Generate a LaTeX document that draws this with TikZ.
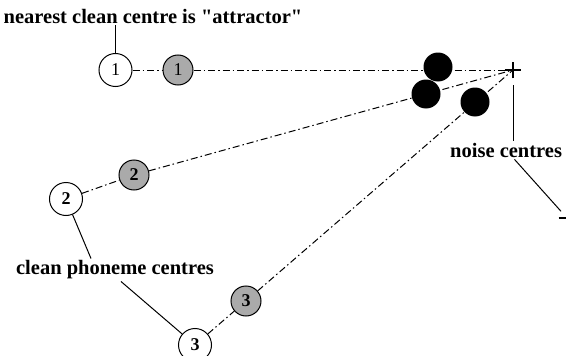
\documentclass[tikz,border=0pt]{standalone}
\usepackage{fontspec}
\setmainfont{Liberation Serif}[Ligatures=TeXOff]
\usetikzlibrary{calc, shapes.misc}
\definecolor{shade}{RGB}{170,170,170}

\begin{document}
\begin{tikzpicture}[
    x=1pt, y=-1pt,
    clean/.style={
        draw,
        circle,
        line width=1pt,
        fill=white,
        minimum size=33pt,
        inner sep=0pt,
        font=\fontsize{18}{18}\selectfont
    },
    noisy/.style={clean, fill=shade, minimum size=30pt},
    blob/.style={circle, fill=black, minimum size=29pt, inner sep=0pt},
    plus/.style={cross out, draw, rotate=45, minimum size=10.6pt, inner sep=0pt, line width=1.2pt},
    note/.style={font=\bfseries\fontsize{20.5}{22}\selectfont, inner sep=2pt},
    link/.style={line width=1pt},
    chain/.style={line width=1pt, dash pattern=on 7pt off 3pt on 1.5pt off 3pt}
]
\useasboundingbox (0,0) rectangle (566,356);
\clip (0,0) rectangle (566,356);

% --- Noise centres
\node[plus] (noise1) at (513,70) {};
\node[plus] (noise2) at (567,218) {};

% --- Clean and noisy phoneme centres
\node[clean] (clean1) at (115.5,70) {1};
\node[noisy] (noisy1) at (178,70) {1};

\node[clean] (clean2) at (66,199) {\bfseries 2};
\node[noisy] (noisy2) at (134,175) {\bfseries 2};

\node[clean] (clean3) at (195,345) {\bfseries 3};
\node[noisy] (noisy3) at (246,301) {\bfseries 3};

% --- Dash-dot paths towards the noise centre
\draw[chain] (clean1) -- (noisy1);
\draw[chain] (noisy1) -- (noise1.center);
\draw[chain] (clean2) -- (noisy2);
\draw[chain] (noisy2) -- (noise1.center);
\draw[chain] (clean3) -- (noisy3);
\draw[chain] (noisy3) -- (noise1.center);

% --- Attractors
\node[blob] (blob1) at (438,67) {};
\node[blob] (blob2) at (426,94) {};
\node[blob] (blob3) at (475,102) {};

% --- Labels
\node[note] (attract) at (153,16) {nearest clean centre is "attractor"};
\node[note, anchor=west] (noiselbl) at (448,150) {noise centres};
\node[note] (cleanlbl) at (115,270) {clean phoneme centres};

\draw[link] (clean1.north) -- (clean1.north |- attract.south);
\draw[link, shorten <=15pt] (noise1.center) -- (noise1.center |- noiselbl.north);
\draw[link, shorten >=9pt] (noiselbl) -- (noise2.center);
\draw[link] (clean2) -- ([xshift=-24pt]cleanlbl.north);
\draw[link] ([xshift=6pt]cleanlbl.south) -- (clean3);

\end{tikzpicture}
\end{document}
